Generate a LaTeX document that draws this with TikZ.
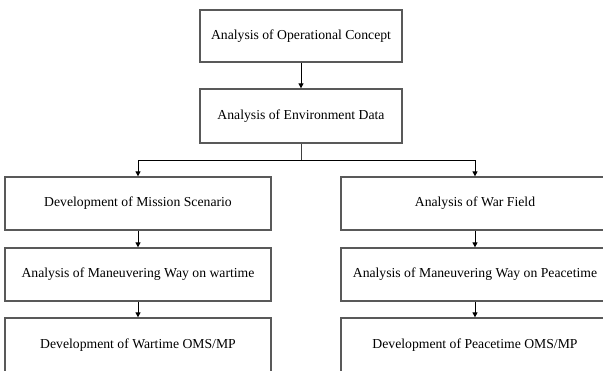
\documentclass[tikz,border=0pt]{standalone}
\usepackage{fontspec}
\setmainfont{Liberation Serif}
\usetikzlibrary{arrows.meta}
\begin{document}
\begin{tikzpicture}[x=1pt,y=-1pt,
  box/.style={draw=black!65,line width=1.3pt,fill=white,minimum width=#1,inner sep=0pt,font=\fontsize{13.7}{16}\selectfont},
  arr/.style={line width=1pt,-{Triangle[length=5pt,width=5pt]}},
  ln/.style={line width=1pt,draw=black!75}]
\clip (0,0) rectangle (603,370);
\useasboundingbox (0,0) rectangle (603,370);
\node[box=202pt,minimum height=52pt] (a) at (301,36) {Analysis of Operational Concept};
\node[box=202pt,minimum height=54pt] (b) at (301,116) {Analysis of Environment Data};
\node[box=266pt,minimum height=53pt] (c) at (138,203.5) {Development of Mission Scenario};
\node[box=266pt,minimum height=53pt] (d) at (138,274.5) {Analysis of Maneuvering Way on wartime};
\node[box=266pt,minimum height=54pt] (e) at (138,345) {Development of Wartime OMS/MP};
\node[box=268pt,minimum height=53pt] (f) at (475,203.5) {Analysis of War Field};
\node[box=268pt,minimum height=53pt] (g) at (475,274.5) {Analysis of Maneuvering Way on Peacetime};
\node[box=268pt,minimum height=54pt] (h) at (475,345) {Development of Peacetime OMS/MP};
\coordinate (j) at (301,160);
\draw[arr] (a) -- (b);
\draw[ln] (b) -- (j);
\draw[arr] (j) -| (c);
\draw[arr] (j) -| (f);
\draw[arr] (c) -- (d);
\draw[arr] (d) -- (e);
\draw[arr] (f) -- (g);
\draw[arr] (g) -- (h);
\end{tikzpicture}
\end{document}
